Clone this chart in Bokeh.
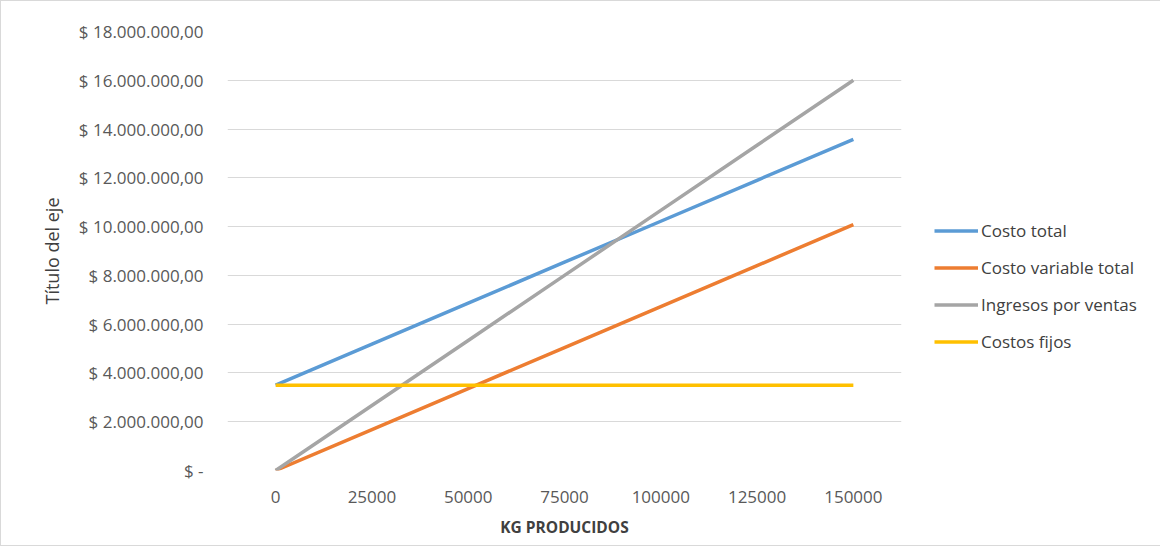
from bokeh.plotting import figure
from bokeh.models import Range1d, FixedTicker, Legend, LegendItem, ColumnDataSource
from bokeh.embed import file_html
from bokeh.resources import INLINE

kg = ["0", "25000", "50000", "75000", "100000", "125000", "150000"]
costo_total = [3500000, 5180000, 6860000, 8540000, 10220000, 11900000, 13580000]
costo_variable = [0, 1680000, 3360000, 5040000, 6720000, 8400000, 10080000]
ingresos = [0, 2666667, 5333333, 8000000, 10666667, 13333333, 16000000]
costos_fijos = [3500000, 3500000, 3500000, 3500000, 3500000, 3500000, 3500000]
y_ticks = [0, 2000000, 4000000, 6000000, 8000000, 10000000, 12000000, 14000000, 16000000, 18000000]
y_tick_labels = ["$ -", "$ 2.000.000,00", "$ 4.000.000,00", "$ 6.000.000,00", "$ 8.000.000,00",
                 "$ 10.000.000,00", "$ 12.000.000,00", "$ 14.000.000,00", "$ 16.000.000,00", "$ 18.000.000,00"]

series = [
    ("Costo total", costo_total, "#5B9BD5"),
    ("Costo variable total", costo_variable, "#ED7D31"),
    ("Ingresos por ventas", ingresos, "#A5A5A5"),
    ("Costos fijos", costos_fijos, "#FFC000"),
]

FONT = "Open Sans"
xs = list(range(len(kg)))

p = figure(frame_width=674, frame_height=439, output_backend="svg", toolbar_location=None,
           x_range=Range1d(-0.5, len(kg) - 0.5), y_range=Range1d(0, 18000000),
           min_border_left=226, min_border_right=244, min_border_top=30, min_border_bottom=75)
p.styles = {"border": "1px solid #d9d9d9"}
p.outline_line_color = None
p.background_fill_color = "white"
p.border_fill_color = "white"

items = []
for name, vals, color in series:
    src = ColumnDataSource(dict(x=xs, y=vals))
    r = p.line("x", "y", source=src, line_color=color, line_width=3.5)
    items.append(LegendItem(label=name, renderers=[r]))

p.xgrid.grid_line_color = None
p.ygrid.grid_line_color = "#d9d9d9"
p.ygrid.grid_line_width = 1
p.ygrid.ticker = FixedTicker(ticks=y_ticks)

p.xaxis.ticker = FixedTicker(ticks=xs)
p.xaxis.major_label_overrides = {i: k for i, k in enumerate(kg)}
p.yaxis.ticker = FixedTicker(ticks=y_ticks)
p.yaxis.major_label_overrides = {t: l for t, l in zip(y_ticks, y_tick_labels)}

for ax in (p.xaxis[0], p.yaxis[0]):
    ax.axis_line_color = None
    ax.major_tick_line_color = None
    ax.minor_tick_line_color = None
    ax.major_label_text_font = FONT
    ax.major_label_text_font_size = "17px"
    ax.major_label_text_color = "#595959"
    ax.axis_label_text_font = FONT
    ax.axis_label_text_color = "#404040"

p.xaxis.major_label_standoff = 14
p.yaxis.major_label_standoff = 18
p.xaxis.axis_label = "KG PRODUCIDOS"
p.xaxis.axis_label_text_font_style = "bold"
p.xaxis.axis_label_text_font_size = "15.5px"
p.xaxis.axis_label_standoff = 10
p.yaxis.axis_label = "Título del eje"
p.yaxis.axis_label_text_font_style = "normal"
p.yaxis.axis_label_text_font_size = "18px"
p.yaxis.axis_label_standoff = 12

legend = Legend(items=items, location=(33, 110), orientation="vertical",
                glyph_width=44, glyph_height=37, label_height=37, spacing=0,
                padding=0, margin=0, label_standoff=3,
                label_text_font=FONT, label_text_font_size="17px",
                label_text_color="#404040", border_line_color=None,
                background_fill_alpha=0)
p.add_layout(legend, "right")

open("out.html", "w").write(file_html(p, INLINE))
